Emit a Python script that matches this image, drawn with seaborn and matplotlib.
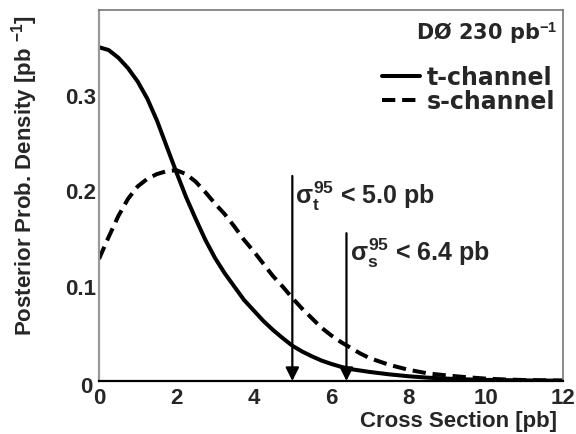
import matplotlib
matplotlib.use("Agg")
import matplotlib.pyplot as plt
import numpy as np
import pandas as pd
import seaborn as sns
from matplotlib.ticker import MultipleLocator
from matplotlib.transforms import ScaledTranslation

# ---- data ----
x_t = [0, 0.25, 0.5, 0.75, 1.0, 1.25, 1.5, 1.75, 2.0, 2.25, 2.5, 2.75, 3.0, 3.25,
       3.5, 3.75, 4.0, 4.25, 4.5, 4.75, 5.0, 5.25, 5.5, 5.75, 6.0, 6.25, 6.5,
       7.0, 7.5, 8.0, 8.5, 9.0, 9.5, 10.0, 11.0, 12.0]
y_t = [0.350, 0.347, 0.339, 0.328, 0.314, 0.296, 0.273, 0.246, 0.219, 0.193,
       0.170, 0.148, 0.129, 0.113, 0.099, 0.085, 0.074, 0.063, 0.0535, 0.045,
       0.037, 0.031, 0.026, 0.0215, 0.018, 0.015, 0.0125, 0.0095, 0.007, 0.005,
       0.0035, 0.0025, 0.0017, 0.0012, 0.0006, 0.0003]

x_s = [0, 0.25, 0.5, 0.75, 1.0, 1.25, 1.5, 1.75, 2.0, 2.25, 2.5, 2.75, 3.0, 3.25,
       3.5, 3.75, 4.0, 4.25, 4.5, 4.75, 5.0, 5.25, 5.5, 5.75, 6.0, 6.25, 6.5,
       6.75, 7.0, 7.5, 8.0, 8.5, 9.0, 9.5, 10.0, 10.5, 11.0, 12.0]
y_s = [0.128, 0.151, 0.173, 0.191, 0.204, 0.212, 0.217, 0.220, 0.221, 0.217,
       0.209, 0.198, 0.186, 0.175, 0.162, 0.148, 0.136, 0.123, 0.110, 0.099,
       0.087, 0.076, 0.066, 0.056, 0.048, 0.041, 0.035, 0.029, 0.024, 0.017,
       0.0118, 0.0080, 0.0058, 0.0040, 0.0025, 0.0016, 0.0010, 0.0004]

channels = ["t-channel", "s-channel"]
limits = [5.0, 6.4]
arrow_tops = [0.215, 0.155]
limit_labels = [r"$\sigma_{\mathbf{t}}^{\mathbf{95}}$ < 5.0 pb",
                r"$\sigma_{\mathbf{s}}^{\mathbf{95}}$ < 6.4 pb"]
x_ticks = [0, 2, 4, 6, 8, 10, 12]
y_ticks = [0, 0.1, 0.2, 0.3]
y_tick_labels = ["0", "0.1", "0.2", "0.3"]

# ---- style ----
sns.set_theme(style="white")
plt.rcParams["font.family"] = ["Liberation Sans", "DejaVu Sans"]
plt.rcParams["font.weight"] = "bold"
plt.rcParams["mathtext.fontset"] = "custom"
plt.rcParams["mathtext.rm"] = "Liberation Sans:bold"
plt.rcParams["mathtext.bf"] = "Liberation Sans:bold"
plt.rcParams["mathtext.it"] = "Liberation Sans"
plt.rcParams["mathtext.sf"] = "Liberation Sans:bold"

FS_TICK = 16
FS_TITLE = 16
FS_LEG = 17
FS_ANN = 18
FS_DZ = 15
WIDE = ["DejaVu Sans"]

df = pd.concat([
    pd.DataFrame({"x": x_t, "y": y_t, "channel": channels[0]}),
    pd.DataFrame({"x": x_s, "y": y_s, "channel": channels[1]}),
], ignore_index=True)

fig = plt.figure(figsize=(5.76, 4.35), dpi=100)
ax = fig.add_axes([99 / 576, 1 - 382 / 435, 464 / 576, 371 / 435])

sns.lineplot(data=df, x="x", y="y", style="channel", style_order=channels,
             dashes={"t-channel": "", "s-channel": (3.3, 1.7)},
             color="black", linewidth=2.9, sort=False, ax=ax, legend=True)

ax.set_xlim(0, 12)
ax.set_ylim(0, 0.389)

# arrows (limits)
for xl, yt, lab in zip(limits, arrow_tops, limit_labels):
    ax.annotate("", xy=(xl, 0), xytext=(xl, yt),
                arrowprops=dict(arrowstyle="-|>,head_length=0.4,head_width=0.2",
                                color="black", lw=1.6, mutation_scale=20,
                                shrinkA=0, shrinkB=0))
    ax.text(xl + 0.08, yt - 0.02, lab, ha="left", va="center", fontsize=FS_ANN,
            fontweight="bold")

# legend
handles, labels = ax.get_legend_handles_labels()
hl = dict(zip(labels, handles))
leg = ax.legend([hl[c] for c in channels], channels, loc="upper right",
                bbox_to_anchor=(0.983, 0.852), frameon=False,
                prop={"family": WIDE, "weight": "bold", "size": FS_LEG},
                handlelength=1.6, handletextpad=0.28, labelspacing=0.0,
                borderaxespad=0, borderpad=0)
for line in leg.get_lines():
    line.set_linewidth(2.9)

ax.text(0.987, 0.975, "DØ 230 pb$^{\\mathbf{-1}}$", transform=ax.transAxes,
        ha="right", va="top", fontsize=FS_DZ, fontweight="bold", family=WIDE)

# ticks
ax.set_xticks(x_ticks)
ax.xaxis.set_minor_locator(MultipleLocator(0.5))
ax.set_yticks(y_ticks)
ax.set_yticklabels(y_tick_labels)
ax.yaxis.set_minor_locator(MultipleLocator(0.02))
ax.tick_params(axis="both", which="both", direction="in", labelsize=FS_TICK)
ax.tick_params(axis="x", which="major", length=11, width=1.0, color="#444444", pad=4)
ax.tick_params(axis="x", which="minor", length=5.5, width=1.0, color="#777777")
ax.tick_params(axis="y", which="major", length=10, width=1.2, color="#999999", pad=2)
ax.tick_params(axis="y", which="minor", length=5, width=1.0, color="#999999")
for t in ax.get_xticklabels() + ax.get_yticklabels():
    t.set_fontweight("bold")
# nudge the y-axis "0" so it does not collide with the x-axis "0"
ylab0 = ax.get_yticklabels()[0]
ylab0.set_transform(ylab0.get_transform() + ScaledTranslation(-3 / 72, -2 / 72, fig.dpi_scale_trans))

# spines
ax.spines["bottom"].set_color("black")
ax.spines["bottom"].set_linewidth(1.6)
ax.spines["left"].set_color("#999999")
ax.spines["left"].set_linewidth(1.6)
for s in ["top", "right"]:
    ax.spines[s].set_color("#777777")
    ax.spines[s].set_linewidth(1.2)

ax.set_xlabel("Cross Section [pb]", fontsize=FS_TITLE, fontweight="bold", loc="right")
ax.xaxis.set_label_coords(0.987, -0.078)
ax.set_ylabel(r"Posterior Prob. Density [pb $^{\mathbf{-1}}$]", fontsize=FS_TITLE,
              fontweight="bold", loc="top")
ax.yaxis.set_label_coords(-0.128, 0.99)

fig.savefig("out.png", dpi=100, facecolor="white")
